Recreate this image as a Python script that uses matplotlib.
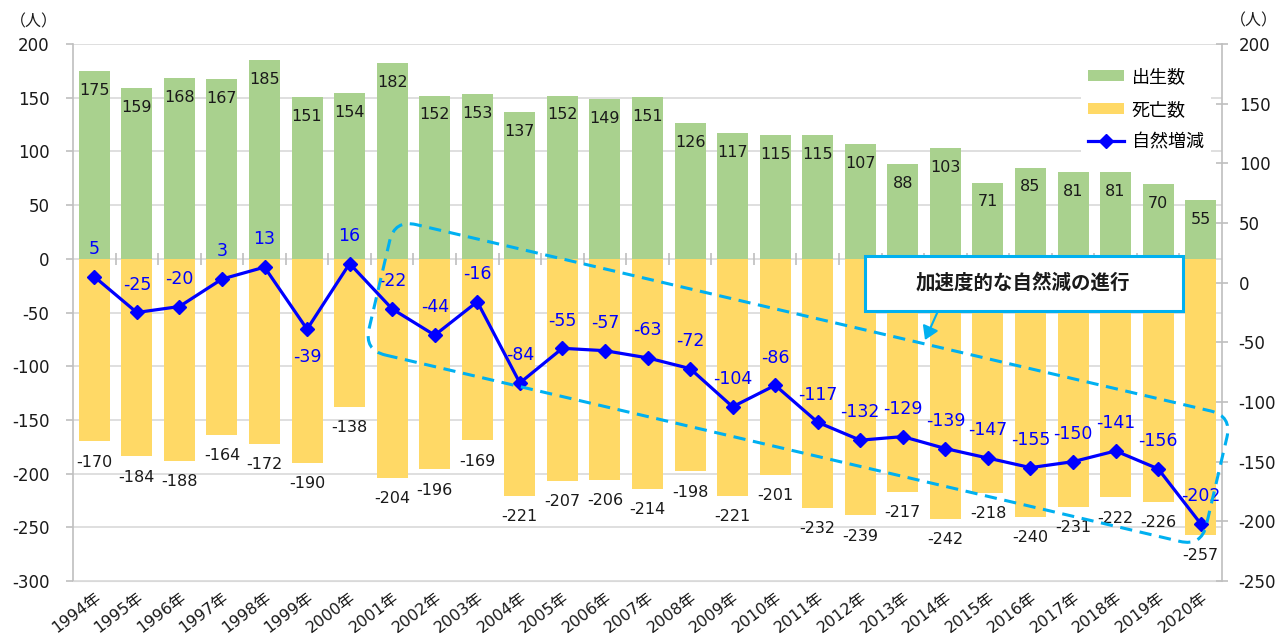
import numpy as np
import matplotlib
matplotlib.use("Agg")
import matplotlib.pyplot as plt
from matplotlib.patches import FancyBboxPatch, Rectangle, Patch, FancyArrowPatch
from matplotlib.lines import Line2D
from matplotlib.transforms import Affine2D

plt.rcParams['font.family'] = ['DejaVu Sans', 'Noto Sans CJK JP']
plt.rcParams['axes.unicode_minus'] = False
CJK = ['Noto Sans CJK JP', 'DejaVu Sans']

years = [f"{y}年" for y in range(1994, 2021)]
births = [175, 159, 168, 167, 185, 151, 154, 182, 152, 153, 137, 152, 149, 151,
          126, 117, 115, 115, 107, 88, 103, 71, 85, 81, 81, 70, 55]
deaths = [-170, -184, -188, -164, -172, -190, -138, -204, -196, -169, -221, -207,
          -206, -214, -198, -221, -201, -232, -239, -217, -242, -218, -240, -231,
          -222, -226, -257]
natural = [5, -25, -20, 3, 13, -39, 16, -22, -44, -16, -84, -55, -57, -63, -72,
           -104, -86, -117, -132, -129, -139, -147, -155, -150, -141, -156, -202]
below_labels = [-39]  # natural-change labels placed under the point

GREEN = '#A9D18E'
YELLOW = '#FFD966'
BLUE = '#0000FF'
CYAN = '#00B0F0'
GRID = '#D9D9D9'
AXC = '#BFBFBF'
TXT = '#1a1a1a'

W, H = 1284, 640
fig = plt.figure(figsize=(W / 100, H / 100), dpi=100)
ax = fig.add_axes([73 / W, 1 - 581 / H, (1222 - 73) / W, (581 - 44) / H])
ax2 = ax.twinx()

x = np.arange(len(years))
ax.bar(x, births, width=0.73, color=GREEN, zorder=2)
ax.bar(x, deaths, width=0.73, color=YELLOW, zorder=2)

ax.set_xlim(-0.5, len(years) - 0.5)
ax.set_ylim(-300, 200)
ax.set_yticks(np.arange(-300, 201, 50))
ax.yaxis.grid(True, color=GRID, lw=1.2, zorder=0)
ax.set_axisbelow(True)
for s in ['top', 'right']:
    ax.spines[s].set_visible(False)
ax.spines['left'].set_color(AXC)
ax.spines['bottom'].set_color(GRID)
ax.spines['left'].set_linewidth(1.2)
ax.tick_params(axis='y', colors=AXC, length=5, width=1.2, labelcolor=TXT,
               labelsize=12, pad=12)
ax.set_xticks(x)
ax.set_xticklabels(years, rotation=37, ha='right', rotation_mode='anchor',
                   fontsize=11.5, color=TXT)
ax.tick_params(axis='x', length=0, pad=6)

# category tick marks on the zero line
ax.plot(x[:-1] + 0.5, np.zeros(len(x) - 1), linestyle='none', marker='|',
        color=AXC, ms=8, mew=1.2, zorder=1)

for xi, b in zip(x, births):
    ax.annotate(str(b), (xi, b), xytext=(0, -14), textcoords='offset points',
                ha='center', va='center', fontsize=11.5, color=TXT, zorder=5)
for xi, d in zip(x, deaths):
    ax.annotate(str(d), (xi, d), xytext=(0, -15),
                textcoords='offset points', ha='center', va='center',
                fontsize=11.5, color=TXT, zorder=5)

ax2.set_ylim(-250, 200)
ax2.set_yticks(np.arange(-250, 201, 50))
for s in ['top', 'left', 'bottom']:
    ax2.spines[s].set_visible(False)
ax2.spines['right'].set_color(AXC)
ax2.spines['right'].set_linewidth(1.2)
ax2.tick_params(axis='y', colors=AXC, length=8, width=1.2, direction='inout',
                labelcolor=TXT, labelsize=12, pad=8)

ax2.plot(x, natural, color=BLUE, lw=2.3, marker='D', ms=7.5, zorder=4)
for xi, n in zip(x, natural):
    off = -20 if n in below_labels else 20
    ax2.annotate(str(n), (xi, n), xytext=(0, off),
                 textcoords='offset points', ha='center', va='center',
                 fontsize=12.5, color=BLUE, zorder=5)

fig.text(34 / W, 1 - 22 / H, '（人）', ha='center', va='center', fontsize=11.5,
         color=TXT, family=CJK)
fig.text(1254 / W, 1 - 21 / H, '（人）', ha='center', va='center', fontsize=11.5,
         color=TXT, family=CJK)

# legend
handles = [Patch(facecolor=GREEN, edgecolor='none'),
           Patch(facecolor=YELLOW, edgecolor='none'),
           Line2D([0], [0], color=BLUE, lw=2.3, marker='D', ms=7)]
leg = ax2.legend(handles, ['出生数', '死亡数', '自然増減'], loc='upper left',
                 bbox_to_anchor=(1072 / W, 1 - 52 / H), bbox_transform=fig.transFigure,
                 frameon=True, fancybox=False, edgecolor='none', facecolor='white',
                 framealpha=1, prop={'family': CJK, 'size': 13}, handlelength=2.0,
                 handleheight=0.55, handletextpad=0.4, labelspacing=0.8,
                 borderpad=0.4)
leg.set_zorder(10)

# dashed rotated rounded rectangle (pixel coords)
cx, cy = 798, 383
bw, bh = 860, 134
rect = FancyBboxPatch((-bw / 2, -bh / 2), bw, bh,
                      boxstyle='round,pad=0,rounding_size=22',
                      fill=False, edgecolor=CYAN, lw=2.2, linestyle=(0, (4, 2.5)),
                      transform=Affine2D().rotate_deg(-13.2).translate(cx, H - cy),
                      zorder=6)
fig.add_artist(rect)

# callout box
box = Rectangle((865, H - 311), 318, 55, facecolor='white', edgecolor=CYAN, lw=2.2,
                transform=None, zorder=7)
fig.add_artist(box)
fig.text(1023 / W, 1 - 283 / H, '加速度的な自然減の進行', ha='center', va='center',
         fontsize=14, fontweight='bold', color=TXT, zorder=8, family=CJK)
fig.add_artist(FancyArrowPatch(
    (938, H - 311), (925, H - 340), transform=None,
    arrowstyle='-|>,head_length=8,head_width=5',
    color=CYAN, lw=1.5, zorder=7, shrinkA=0, shrinkB=0))

fig.savefig('out.png', dpi=100, facecolor='white')
